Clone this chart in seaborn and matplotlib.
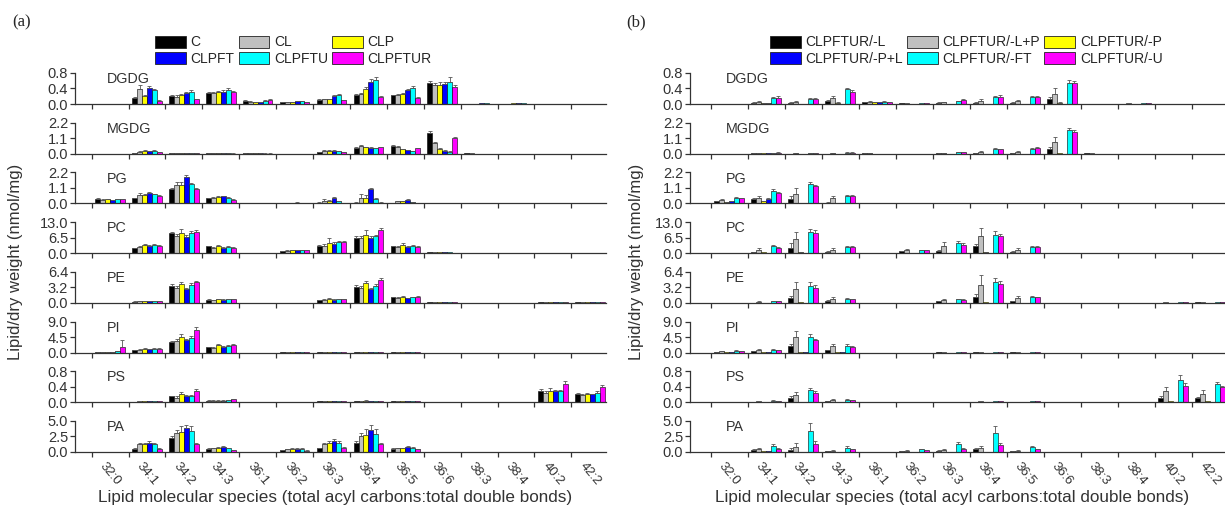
import numpy as np
import pandas as pd
import matplotlib
matplotlib.use('Agg')
import matplotlib.pyplot as plt
import seaborn as sns
from matplotlib.patches import Patch

sns.set_theme(style='ticks')
plt.rcParams['font.family'] = ['Liberation Sans', 'DejaVu Sans']

CATS = ['32:0', '34:1', '34:2', '34:3', '36:1', '36:2', '36:3', '36:4', '36:5',
        '36:6', '38:3', '38:4', '40:2', '42:2']
CLASSES = ['DGDG', 'MGDG', 'PG', 'PC', 'PE', 'PI', 'PS', 'PA']
YMAX = [0.8, 2.2, 2.2, 13.0, 6.4, 9.0, 0.8, 5.0]
SERIES_A = ['C', 'CL', 'CLP', 'CLPFT', 'CLPFTU', 'CLPFTUR']
SERIES_B = ['CLPFTUR/-L', 'CLPFTUR/-L+P', 'CLPFTUR/-P', 'CLPFTUR/-P+L', 'CLPFTUR/-FT', 'CLPFTUR/-U']
COLORS = ['#000000', '#c0c0c0', '#ffff00', '#0000ff', '#00ffff', '#ff00ff']

# ---------------- panel (a) values: one row per series, 14 categories ----------------
A_DGDG = [[0, 0.15, 0.20, 0.28, 0.08, 0.05, 0.10, 0.22, 0.22, 0.55, 0.01, 0.01, 0, 0],
          [0, 0.38, 0.18, 0.28, 0.05, 0.05, 0.12, 0.25, 0.22, 0.50, 0.01, 0.01, 0, 0],
          [0, 0.20, 0.22, 0.30, 0.04, 0.05, 0.12, 0.38, 0.25, 0.50, 0.01, 0.02, 0, 0],
          [0, 0.42, 0.28, 0.32, 0.04, 0.08, 0.20, 0.58, 0.35, 0.52, 0.02, 0.02, 0, 0],
          [0, 0.35, 0.30, 0.35, 0.08, 0.07, 0.22, 0.62, 0.40, 0.58, 0.02, 0.02, 0, 0],
          [0, 0.08, 0.12, 0.30, 0.10, 0.05, 0.10, 0.18, 0.15, 0.45, 0.01, 0.01, 0, 0]]
A_DGDG_E = [[0, 0.03, 0.03, 0.02, 0.02, 0.01, 0.02, 0.03, 0.02, 0.04, 0, 0, 0, 0],
            [0, 0.12, 0.04, 0.03, 0.03, 0.01, 0.02, 0.04, 0.03, 0.05, 0, 0, 0, 0],
            [0, 0.04, 0.03, 0.03, 0.01, 0.01, 0.02, 0.05, 0.03, 0.06, 0, 0, 0, 0],
            [0, 0.05, 0.03, 0.03, 0.01, 0.01, 0.02, 0.06, 0.04, 0.05, 0, 0, 0, 0],
            [0, 0.04, 0.05, 0.05, 0.03, 0.01, 0.03, 0.08, 0.06, 0.12, 0, 0, 0, 0],
            [0, 0.02, 0.02, 0.03, 0.03, 0.01, 0.01, 0.03, 0.03, 0.04, 0, 0, 0, 0]]
A_MGDG = [[0, 0.05, 0.03, 0.02, 0.02, 0.01, 0.12, 0.40, 0.55, 1.50, 0.02, 0, 0, 0],
          [0, 0.15, 0.04, 0.03, 0.02, 0.01, 0.20, 0.55, 0.50, 0.75, 0.02, 0, 0, 0],
          [0, 0.22, 0.03, 0.02, 0.02, 0.01, 0.20, 0.45, 0.32, 0.35, 0.01, 0, 0, 0],
          [0, 0.18, 0.03, 0.02, 0.02, 0.01, 0.22, 0.40, 0.25, 0.20, 0.01, 0, 0, 0],
          [0, 0.20, 0.02, 0.02, 0.01, 0.01, 0.18, 0.38, 0.18, 0.15, 0.01, 0, 0, 0],
          [0, 0.12, 0.02, 0.01, 0.01, 0.01, 0.12, 0.45, 0.38, 1.10, 0.01, 0, 0, 0]]
A_MGDG_E = [[0, 0.02, 0.01, 0.01, 0.01, 0, 0.03, 0.05, 0.05, 0.12, 0, 0, 0, 0],
            [0, 0.05, 0.02, 0.02, 0.01, 0, 0.05, 0.08, 0.05, 0.10, 0, 0, 0, 0],
            [0, 0.05, 0.01, 0.01, 0.01, 0, 0.04, 0.06, 0.04, 0.05, 0, 0, 0, 0],
            [0, 0.04, 0.01, 0.01, 0.01, 0, 0.04, 0.05, 0.03, 0.03, 0, 0, 0, 0],
            [0, 0.04, 0.01, 0.01, 0.01, 0, 0.03, 0.05, 0.03, 0.02, 0, 0, 0, 0],
            [0, 0.03, 0.01, 0.01, 0.01, 0, 0.02, 0.06, 0.05, 0.08, 0, 0, 0, 0]]
A_PG = [[0.30, 0.35, 1.00, 0.35, 0.02, 0.03, 0.05, 0.05, 0.02, 0.02, 0, 0, 0, 0],
        [0.25, 0.60, 1.30, 0.40, 0.02, 0.03, 0.20, 0.40, 0.15, 0.01, 0, 0, 0, 0],
        [0.30, 0.60, 1.30, 0.45, 0.02, 0.05, 0.20, 0.40, 0.15, 0.01, 0, 0, 0, 0],
        [0.22, 0.75, 1.85, 0.50, 0.02, 0.06, 0.40, 1.00, 0.25, 0.01, 0, 0, 0, 0],
        [0.30, 0.65, 1.35, 0.40, 0.01, 0.03, 0.15, 0.30, 0.10, 0.01, 0, 0, 0, 0],
        [0.30, 0.55, 1.00, 0.25, 0.01, 0.02, 0.02, 0.05, 0.02, 0.01, 0, 0, 0, 0]]
A_PG_E = [[0.05, 0.05, 0.08, 0.05, 0, 0, 0.02, 0.02, 0, 0, 0, 0, 0, 0],
          [0.03, 0.15, 0.25, 0.05, 0, 0.01, 0.10, 0.30, 0.05, 0, 0, 0, 0, 0],
          [0.03, 0.10, 0.20, 0.05, 0, 0.01, 0.06, 0.20, 0.04, 0, 0, 0, 0, 0],
          [0.03, 0.08, 0.15, 0.05, 0, 0.01, 0.05, 0.10, 0.04, 0, 0, 0, 0, 0],
          [0.03, 0.05, 0.10, 0.04, 0, 0, 0.04, 0.08, 0.03, 0, 0, 0, 0, 0],
          [0.03, 0.04, 0.08, 0.03, 0, 0, 0.01, 0.02, 0.01, 0, 0, 0, 0, 0]]
A_PC = [[0.1, 2.0, 8.5, 2.8, 0.1, 0.8, 3.0, 6.5, 2.8, 0.3, 0.2, 0.2, 0, 0],
        [0.1, 2.5, 7.0, 2.0, 0.1, 1.0, 3.0, 6.2, 2.5, 0.3, 0.2, 0.2, 0, 0],
        [0.1, 3.5, 8.5, 2.8, 0.1, 1.2, 4.3, 7.8, 3.2, 0.3, 0.2, 0.2, 0, 0],
        [0.1, 3.0, 6.8, 2.3, 0.1, 1.2, 4.0, 6.5, 2.5, 0.3, 0.2, 0.2, 0, 0],
        [0.1, 3.3, 8.5, 2.5, 0.1, 1.2, 4.5, 7.0, 3.0, 0.3, 0.2, 0.2, 0, 0],
        [0.1, 3.0, 9.0, 2.2, 0.1, 1.2, 4.5, 9.8, 2.5, 0.2, 0.1, 0.1, 0, 0]]
A_PC_E = [[0, 0.3, 0.5, 0.3, 0, 0.1, 0.4, 0.5, 0.3, 0, 0, 0, 0, 0],
          [0, 0.5, 1.0, 0.4, 0, 0.2, 0.8, 1.0, 0.4, 0, 0, 0, 0, 0],
          [0, 0.5, 1.5, 0.4, 0, 0.2, 2.0, 2.0, 1.0, 0, 0, 0, 0, 0],
          [0, 0.4, 0.8, 0.3, 0, 0.2, 0.6, 0.8, 0.4, 0, 0, 0, 0, 0],
          [0, 0.4, 0.8, 0.3, 0, 0.2, 0.6, 0.8, 0.4, 0, 0, 0, 0, 0],
          [0, 0.4, 0.6, 0.3, 0, 0.2, 0.5, 0.6, 0.3, 0, 0, 0, 0, 0]]
A_PE = [[0, 0.25, 3.5, 0.6, 0, 0.05, 0.5, 3.3, 1.1, 0.1, 0, 0, 0.10, 0.10],
        [0, 0.30, 3.0, 0.5, 0, 0.05, 0.6, 3.0, 1.0, 0.1, 0, 0, 0.10, 0.10],
        [0, 0.35, 3.8, 0.7, 0, 0.05, 0.8, 4.0, 1.3, 0.1, 0, 0, 0.10, 0.10],
        [0, 0.30, 2.8, 0.6, 0, 0.05, 0.6, 2.8, 0.9, 0.1, 0, 0, 0.10, 0.10],
        [0, 0.35, 3.7, 0.7, 0, 0.05, 0.7, 3.5, 1.1, 0.1, 0, 0, 0.10, 0.10],
        [0, 0.30, 4.2, 0.7, 0, 0.05, 0.7, 4.8, 1.3, 0.1, 0, 0, 0.15, 0.10]]
A_PE_E = [[0, 0.05, 0.3, 0.1, 0, 0, 0.1, 0.3, 0.1, 0, 0, 0, 0, 0],
          [0, 0.05, 0.4, 0.1, 0, 0, 0.1, 0.4, 0.2, 0, 0, 0, 0, 0],
          [0, 0.05, 0.5, 0.1, 0, 0, 0.1, 0.5, 0.2, 0, 0, 0, 0, 0],
          [0, 0.05, 0.3, 0.1, 0, 0, 0.1, 0.3, 0.1, 0, 0, 0, 0, 0],
          [0, 0.05, 0.4, 0.1, 0, 0, 0.1, 0.4, 0.1, 0, 0, 0, 0, 0],
          [0, 0.05, 0.3, 0.1, 0, 0, 0.1, 0.4, 0.1, 0, 0, 0, 0.03, 0]]
A_PI = [[0.2, 0.6, 3.0, 1.5, 0, 0.05, 0.10, 0.15, 0.10, 0, 0, 0, 0, 0],
        [0.2, 0.8, 3.2, 1.3, 0, 0.05, 0.10, 0.15, 0.10, 0, 0, 0, 0, 0],
        [0.2, 1.0, 4.5, 2.1, 0, 0.05, 0.10, 0.15, 0.10, 0, 0, 0, 0, 0],
        [0.1, 0.9, 3.5, 1.6, 0, 0.05, 0.10, 0.15, 0.10, 0, 0, 0, 0, 0],
        [0.3, 1.0, 4.2, 1.8, 0, 0.05, 0.10, 0.15, 0.10, 0, 0, 0, 0, 0],
        [1.5, 1.0, 6.5, 2.2, 0, 0.05, 0.10, 0.15, 0.10, 0, 0, 0, 0, 0]]
A_PI_E = [[0.05, 0.1, 0.4, 0.2, 0, 0, 0, 0, 0, 0, 0, 0, 0, 0],
          [0.05, 0.2, 0.6, 0.3, 0, 0, 0, 0, 0, 0, 0, 0, 0, 0],
          [0.05, 0.2, 1.0, 0.3, 0, 0, 0, 0, 0, 0, 0, 0, 0, 0],
          [0.05, 0.1, 0.5, 0.2, 0, 0, 0, 0, 0, 0, 0, 0, 0, 0],
          [0.05, 0.2, 0.6, 0.3, 0, 0, 0, 0, 0, 0, 0, 0, 0, 0],
          [2.0, 0.2, 1.0, 0.3, 0, 0, 0, 0, 0, 0, 0, 0, 0, 0]]
A_PS = [[0, 0.01, 0.15, 0.04, 0, 0.01, 0.02, 0.03, 0.02, 0, 0, 0, 0.30, 0.22],
        [0, 0.02, 0.12, 0.04, 0, 0.01, 0.02, 0.02, 0.02, 0, 0, 0, 0.25, 0.18],
        [0, 0.02, 0.20, 0.04, 0, 0.01, 0.02, 0.04, 0.02, 0, 0, 0, 0.30, 0.22],
        [0, 0.02, 0.15, 0.04, 0, 0.01, 0.02, 0.02, 0.02, 0, 0, 0, 0.28, 0.20],
        [0, 0.03, 0.15, 0.05, 0, 0.01, 0.02, 0.02, 0.02, 0, 0, 0, 0.28, 0.25],
        [0, 0.02, 0.28, 0.07, 0, 0.01, 0.02, 0.03, 0.02, 0, 0, 0, 0.48, 0.40]]
A_PS_E = [[0, 0, 0.02, 0.01, 0, 0, 0, 0, 0, 0, 0, 0, 0.03, 0.02],
          [0, 0, 0.04, 0.01, 0, 0, 0, 0, 0, 0, 0, 0, 0.04, 0.03],
          [0, 0, 0.06, 0.01, 0, 0, 0, 0.01, 0, 0, 0, 0, 0.06, 0.03],
          [0, 0, 0.03, 0.01, 0, 0, 0, 0, 0, 0, 0, 0, 0.03, 0.02],
          [0, 0, 0.03, 0.01, 0, 0, 0, 0, 0, 0, 0, 0, 0.03, 0.03],
          [0, 0, 0.05, 0.01, 0, 0, 0, 0, 0, 0, 0, 0, 0.06, 0.04]]
A_PA = [[0.05, 0.5, 2.2, 0.5, 0, 0.3, 0.6, 1.5, 0.5, 0.02, 0, 0, 0, 0],
        [0.05, 1.2, 3.0, 0.6, 0, 0.4, 1.2, 2.5, 0.6, 0.01, 0, 0, 0, 0],
        [0.05, 1.2, 3.2, 0.7, 0, 0.5, 1.5, 2.8, 0.6, 0.01, 0, 0, 0, 0],
        [0.05, 1.5, 3.8, 0.8, 0, 0.5, 1.8, 3.5, 0.8, 0.01, 0, 0, 0, 0],
        [0.05, 1.2, 3.3, 0.6, 0, 0.5, 1.5, 2.9, 0.7, 0.01, 0, 0, 0, 0],
        [0.02, 0.5, 1.3, 0.3, 0, 0.2, 0.7, 1.2, 0.4, 0.01, 0, 0, 0, 0]]
A_PA_E = [[0, 0.1, 0.3, 0.1, 0, 0.05, 0.1, 0.3, 0.1, 0, 0, 0, 0, 0],
          [0, 0.2, 0.5, 0.1, 0, 0.05, 0.3, 0.6, 0.1, 0, 0, 0, 0, 0],
          [0, 0.2, 0.9, 0.1, 0, 0.05, 0.3, 0.9, 0.1, 0, 0, 0, 0, 0],
          [0, 0.3, 0.6, 0.1, 0, 0.05, 0.3, 0.8, 0.1, 0, 0, 0, 0, 0],
          [0, 0.2, 0.9, 0.1, 0, 0.05, 0.3, 0.8, 0.1, 0, 0, 0, 0, 0],
          [0, 0.1, 0.2, 0.05, 0, 0.03, 0.1, 0.2, 0.05, 0, 0, 0, 0, 0]]

# ---------------- panel (b) values ----------------
B_DGDG = [[0, 0.03, 0.03, 0.08, 0.05, 0.02, 0.03, 0.03, 0.03, 0.12, 0.01, 0.01, 0, 0],
          [0, 0.05, 0.05, 0.15, 0.06, 0.02, 0.04, 0.08, 0.07, 0.25, 0.01, 0.02, 0, 0],
          [0, 0.02, 0.01, 0.03, 0.04, 0.01, 0.01, 0.01, 0.01, 0.03, 0, 0, 0, 0],
          [0, 0.02, 0.01, 0.01, 0.04, 0.01, 0.01, 0.01, 0.01, 0.01, 0, 0, 0, 0],
          [0, 0.15, 0.13, 0.38, 0.06, 0.03, 0.08, 0.18, 0.18, 0.55, 0.01, 0.02, 0, 0],
          [0, 0.15, 0.13, 0.32, 0.05, 0.03, 0.10, 0.18, 0.17, 0.55, 0.01, 0.02, 0, 0]]
B_DGDG_E = [[0, 0.01, 0.01, 0.03, 0.01, 0, 0.01, 0.01, 0.01, 0.05, 0, 0, 0, 0],
            [0, 0.02, 0.02, 0.06, 0.02, 0, 0.02, 0.04, 0.03, 0.15, 0, 0, 0, 0],
            [0, 0.01, 0, 0.01, 0.01, 0, 0, 0, 0, 0.01, 0, 0, 0, 0],
            [0, 0.01, 0, 0, 0.01, 0, 0, 0, 0, 0, 0, 0, 0, 0],
            [0, 0.03, 0.02, 0.04, 0.01, 0, 0.01, 0.03, 0.03, 0.06, 0, 0, 0, 0],
            [0, 0.05, 0.02, 0.04, 0.01, 0, 0.02, 0.04, 0.03, 0.05, 0, 0, 0, 0]]
B_MGDG = [[0, 0.02, 0.01, 0.01, 0.02, 0.01, 0.02, 0.05, 0.05, 0.35, 0.02, 0, 0, 0],
          [0, 0.05, 0.02, 0.02, 0.02, 0.01, 0.05, 0.15, 0.12, 0.85, 0.02, 0, 0, 0],
          [0, 0.02, 0, 0, 0, 0, 0, 0, 0, 0.02, 0, 0, 0, 0],
          [0, 0.02, 0, 0, 0, 0, 0, 0, 0, 0.01, 0, 0, 0, 0],
          [0, 0.05, 0.02, 0.07, 0.01, 0.01, 0.10, 0.35, 0.35, 1.70, 0.01, 0, 0, 0],
          [0, 0.08, 0.02, 0.07, 0.01, 0.01, 0.10, 0.30, 0.38, 1.55, 0.01, 0, 0, 0]]
B_MGDG_E = [[0, 0.01, 0, 0, 0.01, 0, 0.01, 0.02, 0.02, 0.10, 0, 0, 0, 0],
            [0, 0.02, 0.01, 0.01, 0.01, 0, 0.02, 0.06, 0.05, 0.35, 0, 0, 0, 0],
            [0, 0, 0, 0, 0, 0, 0, 0, 0, 0, 0, 0, 0, 0],
            [0, 0, 0, 0, 0, 0, 0, 0, 0, 0, 0, 0, 0, 0],
            [0, 0.01, 0.01, 0.02, 0, 0, 0.02, 0.05, 0.05, 0.15, 0, 0, 0, 0],
            [0, 0.02, 0.01, 0.02, 0, 0, 0.02, 0.05, 0.06, 0.12, 0, 0, 0, 0]]
B_PG = [[0.15, 0.30, 0.30, 0.05, 0.01, 0.01, 0.01, 0.02, 0.01, 0.01, 0, 0, 0, 0],
        [0.25, 0.35, 0.70, 0.35, 0.01, 0.02, 0.02, 0.03, 0.01, 0.01, 0, 0, 0, 0],
        [0.10, 0.15, 0.05, 0.01, 0, 0, 0, 0, 0, 0, 0, 0, 0, 0],
        [0.15, 0.30, 0.02, 0.01, 0, 0, 0, 0, 0, 0, 0, 0, 0, 0],
        [0.40, 0.85, 1.35, 0.55, 0.02, 0.03, 0.03, 0.04, 0.02, 0.01, 0, 0, 0, 0],
        [0.35, 0.75, 1.20, 0.55, 0.02, 0.03, 0.03, 0.06, 0.02, 0.01, 0, 0, 0, 0]]
B_PG_E = [[0.03, 0.08, 0.20, 0.02, 0, 0, 0, 0, 0, 0, 0, 0, 0, 0],
          [0.08, 0.20, 0.40, 0.15, 0, 0, 0, 0, 0, 0, 0, 0, 0, 0],
          [0.02, 0.03, 0.01, 0, 0, 0, 0, 0, 0, 0, 0, 0, 0, 0],
          [0.02, 0.05, 0, 0, 0, 0, 0, 0, 0, 0, 0, 0, 0, 0],
          [0.04, 0.20, 0.15, 0.05, 0, 0, 0, 0, 0, 0, 0, 0, 0, 0],
          [0.04, 0.06, 0.12, 0.05, 0, 0, 0, 0, 0, 0, 0, 0, 0, 0]]
B_PC = [[0.05, 0.30, 2.2, 0.50, 0.10, 0.80, 1.0, 2.8, 0.5, 0.1, 0.1, 0.1, 0.1, 0.05],
        [0.10, 1.50, 6.0, 1.50, 0.10, 1.20, 3.0, 7.0, 1.5, 0.1, 0.1, 0.1, 0.1, 0.05],
        [0.02, 0.30, 0.5, 0.10, 0.02, 0.10, 0.2, 0.3, 0.1, 0, 0, 0, 0, 0],
        [0.02, 0.10, 0.1, 0.05, 0.02, 0.05, 0.1, 0.1, 0.1, 0, 0, 0, 0, 0],
        [0.10, 2.80, 8.8, 2.60, 0.10, 1.30, 4.2, 7.8, 2.7, 0.1, 0.1, 0.1, 0.1, 0.05],
        [0.10, 2.30, 8.5, 2.50, 0.10, 1.20, 3.5, 7.2, 2.7, 0.1, 0.1, 0.1, 0.1, 0.05]]
B_PC_E = [[0, 0.1, 2.0, 0.2, 0, 0.2, 0.5, 1.0, 0.2, 0, 0, 0, 0, 0],
          [0, 0.8, 3.0, 0.8, 0, 0.4, 1.5, 3.5, 0.8, 0, 0, 0, 0, 0],
          [0, 0, 0.1, 0, 0, 0, 0, 0.1, 0, 0, 0, 0, 0, 0],
          [0, 0, 0, 0, 0, 0, 0, 0, 0, 0, 0, 0, 0, 0],
          [0, 0.5, 1.5, 0.3, 0, 0.2, 1.0, 1.5, 0.3, 0, 0, 0, 0, 0],
          [0, 0.4, 1.0, 0.3, 0, 0.2, 0.8, 1.0, 0.3, 0, 0, 0, 0, 0]]
B_PE = [[0, 0.05, 0.9, 0.4, 0, 0.05, 0.30, 1.2, 0.3, 0.05, 0, 0, 0.05, 0.10],
        [0, 0.20, 2.8, 0.8, 0, 0.05, 0.60, 3.6, 0.9, 0.05, 0, 0, 0.10, 0.15],
        [0, 0.02, 0.1, 0.02, 0, 0, 0.02, 0.1, 0.02, 0, 0, 0, 0, 0],
        [0, 0.02, 0.02, 0.02, 0, 0, 0.02, 0.02, 0.02, 0, 0, 0, 0, 0],
        [0, 0.30, 3.5, 0.8, 0, 0.05, 0.70, 4.2, 1.2, 0.05, 0, 0, 0.10, 0.15],
        [0, 0.30, 3.1, 0.7, 0, 0.05, 0.60, 3.8, 1.1, 0.05, 0, 0, 0.10, 0.12]]
B_PE_E = [[0, 0, 0.5, 0.1, 0, 0, 0.1, 0.6, 0.1, 0, 0, 0, 0, 0],
          [0, 0.1, 1.5, 0.3, 0, 0, 0.2, 2.2, 0.6, 0, 0, 0, 0, 0],
          [0, 0, 0, 0, 0, 0, 0, 0, 0, 0, 0, 0, 0, 0],
          [0, 0, 0, 0, 0, 0, 0, 0, 0, 0, 0, 0, 0, 0],
          [0, 0.05, 0.8, 0.2, 0, 0, 0.1, 0.9, 0.2, 0, 0, 0, 0, 0],
          [0, 0.05, 0.5, 0.1, 0, 0, 0.1, 0.6, 0.1, 0, 0, 0, 0, 0]]
B_PI = [[0.2, 0.4, 1.8, 0.6, 0, 0, 0.10, 0.10, 0.05, 0, 0, 0, 0, 0],
        [0.3, 0.8, 4.5, 1.8, 0, 0, 0.15, 0.15, 0.05, 0, 0, 0, 0, 0],
        [0.1, 0.1, 0.2, 0.1, 0, 0, 0, 0, 0, 0, 0, 0, 0, 0],
        [0.1, 0.1, 0.1, 0.05, 0, 0, 0, 0, 0, 0, 0, 0, 0, 0],
        [0.5, 0.8, 4.5, 1.9, 0, 0, 0.10, 0.10, 0.05, 0, 0, 0, 0, 0],
        [0.4, 0.7, 3.5, 1.6, 0, 0, 0.10, 0.10, 0.05, 0, 0, 0, 0, 0]]
B_PI_E = [[0.05, 0.1, 0.8, 0.2, 0, 0, 0, 0, 0, 0, 0, 0, 0, 0],
          [0.1, 0.3, 1.8, 0.8, 0, 0, 0, 0, 0, 0, 0, 0, 0, 0],
          [0, 0, 0, 0, 0, 0, 0, 0, 0, 0, 0, 0, 0, 0],
          [0, 0, 0, 0, 0, 0, 0, 0, 0, 0, 0, 0, 0, 0],
          [0.1, 0.2, 1.0, 0.6, 0, 0, 0, 0, 0, 0, 0, 0, 0, 0],
          [0.1, 0.1, 0.5, 0.3, 0, 0, 0, 0, 0, 0, 0, 0, 0, 0]]
B_PS = [[0, 0.01, 0.10, 0.03, 0, 0.01, 0.01, 0.01, 0.01, 0, 0, 0, 0.10, 0.10],
        [0, 0.02, 0.18, 0.06, 0, 0.01, 0.01, 0.02, 0.01, 0, 0, 0, 0.28, 0.22],
        [0, 0, 0.01, 0, 0, 0, 0, 0, 0, 0, 0, 0, 0.02, 0.02],
        [0, 0, 0.01, 0, 0, 0, 0, 0, 0, 0, 0, 0, 0.01, 0.01],
        [0, 0.04, 0.32, 0.06, 0, 0.01, 0.01, 0.03, 0.02, 0, 0, 0, 0.58, 0.48],
        [0, 0.03, 0.25, 0.05, 0, 0.01, 0.01, 0.03, 0.02, 0, 0, 0, 0.42, 0.38]]
B_PS_E = [[0, 0, 0.05, 0.01, 0, 0, 0, 0, 0, 0, 0, 0, 0.05, 0.04],
          [0, 0, 0.08, 0.03, 0, 0, 0, 0, 0, 0, 0, 0, 0.12, 0.10],
          [0, 0, 0, 0, 0, 0, 0, 0, 0, 0, 0, 0, 0, 0],
          [0, 0, 0, 0, 0, 0, 0, 0, 0, 0, 0, 0, 0, 0],
          [0, 0.01, 0.04, 0.01, 0, 0, 0, 0, 0, 0, 0, 0, 0.12, 0.04],
          [0, 0.01, 0.04, 0.01, 0, 0, 0, 0, 0, 0, 0, 0, 0.08, 0.04]]
B_PA = [[0, 0.30, 0.30, 0.10, 0, 0.10, 0.20, 0.40, 0.10, 0, 0, 0, 0, 0],
        [0, 0.40, 0.80, 0.20, 0, 0.20, 0.30, 0.60, 0.20, 0, 0, 0, 0, 0],
        [0, 0.10, 0.05, 0, 0, 0, 0, 0.05, 0, 0, 0, 0, 0, 0],
        [0, 0.10, 0.05, 0, 0, 0, 0, 0, 0, 0, 0, 0, 0, 0],
        [0.02, 0.90, 3.30, 0.70, 0, 0.40, 1.30, 3.10, 0.80, 0, 0, 0, 0, 0],
        [0.02, 0.50, 1.30, 0.40, 0, 0.30, 0.50, 1.10, 0.40, 0, 0, 0, 0, 0]]
B_PA_E = [[0, 0.1, 0.3, 0.05, 0, 0.05, 0.1, 0.3, 0.05, 0, 0, 0, 0, 0],
          [0, 0.2, 0.6, 0.1, 0, 0.05, 0.2, 0.4, 0.1, 0, 0, 0, 0, 0],
          [0, 0, 0, 0, 0, 0, 0, 0, 0, 0, 0, 0, 0, 0],
          [0, 0, 0, 0, 0, 0, 0, 0, 0, 0, 0, 0, 0, 0],
          [0, 0.3, 1.3, 0.2, 0, 0.1, 0.3, 1.0, 0.2, 0, 0, 0, 0, 0],
          [0, 0.1, 0.5, 0.1, 0, 0.05, 0.1, 0.3, 0.1, 0, 0, 0, 0, 0]]

PANEL_A = [A_DGDG, A_MGDG, A_PG, A_PC, A_PE, A_PI, A_PS, A_PA]
PANEL_A_E = [A_DGDG_E, A_MGDG_E, A_PG_E, A_PC_E, A_PE_E, A_PI_E, A_PS_E, A_PA_E]
PANEL_B = [B_DGDG, B_MGDG, B_PG, B_PC, B_PE, B_PI, B_PS, B_PA]
PANEL_B_E = [B_DGDG_E, B_MGDG_E, B_PG_E, B_PC_E, B_PE_E, B_PI_E, B_PS_E, B_PA_E]

W, H = 1225, 511
fig = plt.figure(figsize=(W / 100, H / 100), dpi=100)
AXC = '#333333'


def draw_panel(values, errors, series, left_px, c0_px, unit_px, xmax):
    xmin = (left_px - c0_px) / unit_px
    width_px = (xmax - xmin) * unit_px
    for i, cls in enumerate(CLASSES):
        zero = 104 + 49.7 * i
        ax_h = 44.0
        ax = fig.add_axes([left_px / W, 1 - zero / H, width_px / W, ax_h / H])
        ymax = YMAX[i]
        rows = []
        for s, vals in zip(series, values[i]):
            for c, v in zip(CATS, vals):
                rows.append({'cat': c, 'ser': s, 'val': v})
        df = pd.DataFrame(rows)
        sns.barplot(data=df, x='cat', y='val', hue='ser', order=CATS, hue_order=series,
                    palette=COLORS, saturation=1, errorbar=None, width=0.8,
                    edgecolor='black', linewidth=0.4, legend=False, ax=ax)
        # error bars (upper only) placed on seaborn's bars
        cmap = {tuple(np.round(matplotlib.colors.to_rgba(c), 3)): j for j, c in enumerate(COLORS)}
        for p in ax.patches:
            j = cmap[tuple(np.round(p.get_facecolor(), 3))]
            xc = p.get_x() + p.get_width() / 2
            k = int(round(xc))
            e = errors[i][j][k]
            h = p.get_height()
            if e > 0:
                ax.errorbar([xc], [h], yerr=[[0], [e]], fmt='none', ecolor='#555555',
                            elinewidth=0.6, capsize=1.3, capthick=0.6, clip_on=False)
        ax.set_xlim(xmin, xmax)
        ax.set_ylim(0, ymax * ax_h / 31.0)
        ax.set_xlabel('')
        ax.set_ylabel('')
        ax.set_yticks([0, ymax / 2, ymax])
        ax.set_yticklabels([f'{v:.1f}' for v in [0, ymax / 2, ymax]])
        ax.set_xticks(np.arange(len(CATS)) - 0.5)
        ax.set_xticklabels([''] * len(CATS))
        ax.set_xticks(np.arange(len(CATS)), minor=True)
        if i == len(CLASSES) - 1:
            ax.set_xticklabels(CATS, minor=True, rotation=-50, ha='center', va='top',
                               fontsize=9.5, color=AXC)
        else:
            ax.set_xticklabels([''] * len(CATS), minor=True)
        ax.tick_params(axis='x', which='minor', length=0, pad=6)
        ax.tick_params(axis='both', which='major', direction='out', length=3.5,
                       width=0.9, color=AXC, labelsize=10.5, labelcolor=AXC, pad=1.5)
        for sp in ['top', 'right']:
            ax.spines[sp].set_visible(False)
        ax.spines['left'].set_bounds(0, ymax)
        for sp in ['left', 'bottom']:
            ax.spines[sp].set_color(AXC)
            ax.spines[sp].set_linewidth(0.9)
        ax.patch.set_alpha(0)
        ax.text(-0.08, ymax * 0.8, cls, ha='left', va='center', fontsize=10.3, color=AXC)


draw_panel(PANEL_A, PANEL_A_E, SERIES_A, 75, 110.1, 36.9, 13.45)
draw_panel(PANEL_B, PANEL_B_E, SERIES_B, 690, 729.0, 37.0, 13.4)

order = [0, 3, 1, 4, 2, 5]
for series, x_px in [(SERIES_A, 155), (SERIES_B, 770)]:
    handles = [Patch(facecolor=COLORS[j], edgecolor='#222222', linewidth=0.6) for j in order]
    labels = [series[j] for j in order]
    fig.legend(handles, labels, ncol=3, loc='upper left', bbox_to_anchor=(x_px / W, 1 - 35.5 / H),
               frameon=False, fontsize=10, handlelength=2.2, handleheight=0.95,
               handletextpad=0.35, columnspacing=0.3, labelspacing=0.15,
               borderpad=0, borderaxespad=0)

fig.text(12 / W, 1 - 22 / H, '(a)', fontsize=12, family=['Liberation Serif', 'DejaVu Serif'],
         ha='left', va='center')
fig.text(626 / W, 1 - 22 / H, '(b)', fontsize=12, family=['Liberation Serif', 'DejaVu Serif'],
         ha='left', va='center')
for xp in [16, 636]:
    fig.text(xp / W, 1 - 262 / H, 'Lipid/dry weight (nmol/mg)', rotation=90, fontsize=12,
             ha='center', va='center', color=AXC)
for xp in [335, 952]:
    fig.text(xp / W, 1 - 497 / H,
             'Lipid molecular species (total acyl carbons:total double bonds)',
             fontsize=12.3, ha='center', va='center', color=AXC)

fig.savefig('out.png', dpi=100)
